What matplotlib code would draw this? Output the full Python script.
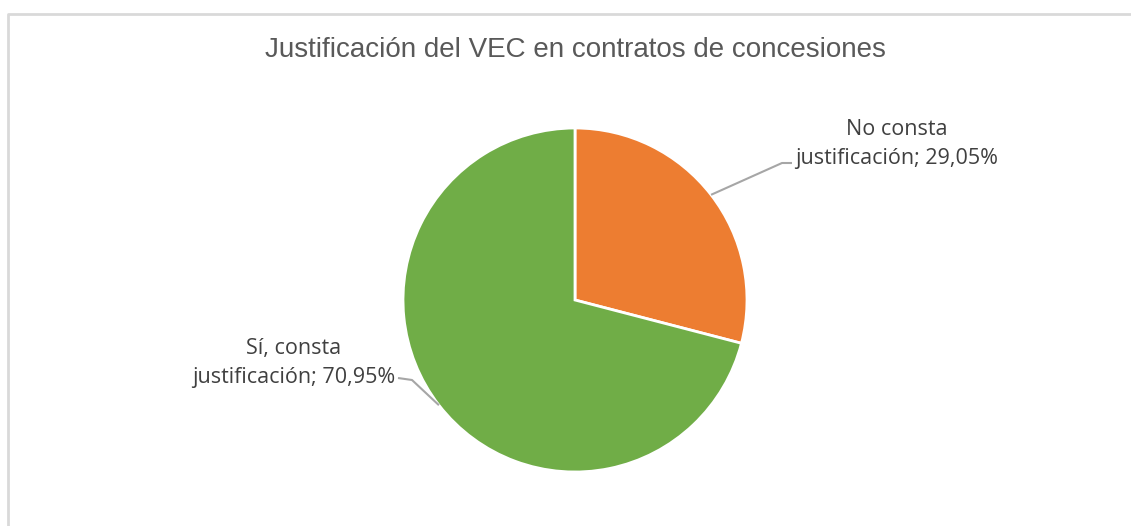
import matplotlib.pyplot as plt
import numpy as np
from matplotlib.lines import Line2D

labels = ["No consta\njustificación; 29,05%", "Sí, consta\njustificación; 70,95%"]
shares = [29.05, 70.95]
colors = ["#ED7D31", "#70AD47"]

W, H = 1131, 526
fig = plt.figure(figsize=(W / 100, H / 100), dpi=100)
ax = fig.add_axes([0, 0, 1, 1])

# chart frame: left and top edges only, the rest runs off the image
fig.lines.append(Line2D([8 / W, 8 / W, 1.01], [-0.01, 1 - 14 / H, 1 - 14 / H],
                        transform=fig.transFigure, color="#d9d9d9", linewidth=2))

cx, cy, r = 575, H - 300, 172
wedges, _ = ax.pie(shares, colors=colors, startangle=90, counterclock=False,
                   center=(cx, cy), radius=r, frame=True,
                   wedgeprops=dict(edgecolor="white", linewidth=2))
ax.set_xlim(0, W)
ax.set_ylim(0, H)
ax.set_aspect("equal")
ax.axis("off")

# label text anchor, elbow points for each slice
label_pos = [(897, H - 144), (294, H - 363)]
elbows = [((782, H - 163), (792, H - 163)), ((412, H - 380), (398, H - 378))]
for w, lab, (tx, ty), (e1, e2) in zip(wedges, labels, label_pos, elbows):
    mid = np.deg2rad((w.theta1 + w.theta2) / 2)
    px, py = cx + r * np.cos(mid), cy + r * np.sin(mid)
    ax.plot([px, e1[0], e2[0]], [py, e1[1], e2[1]], color="#a6a6a6",
            linewidth=1.5, solid_capstyle="butt")
    ax.text(tx, ty, lab, ha="center", va="center", fontsize=15.5,
            family="Open Sans", color="#404040", linespacing=1.55)

fig.text(575 / W, 1 - 50 / H, "Justificación del VEC en contratos de concesiones",
         ha="center", va="center", fontsize=20, family="Liberation Sans",
         color="#595959")

fig.savefig("out.png", dpi=100)
